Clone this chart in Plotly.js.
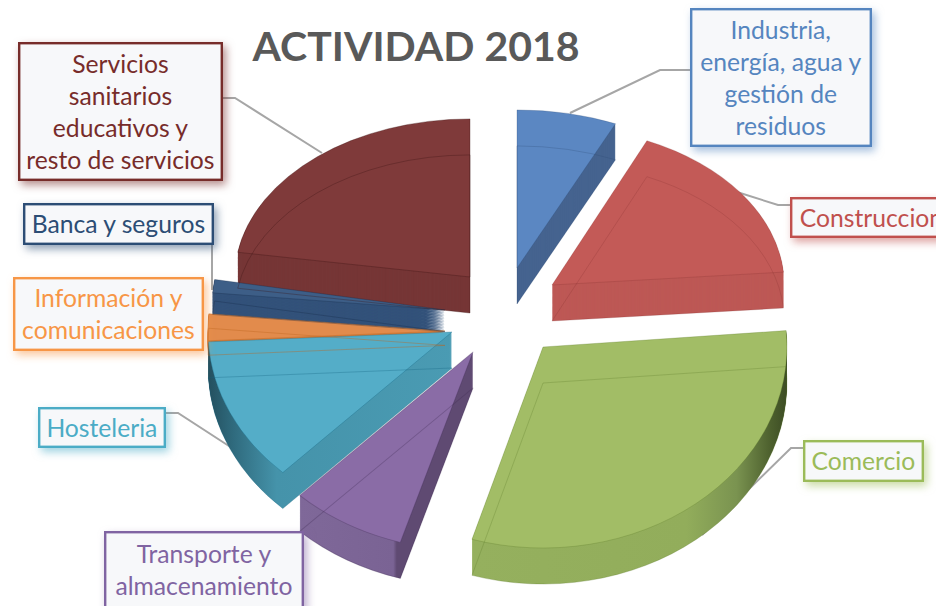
<!DOCTYPE html>
<html><head><meta charset="utf-8">
<script src="https://cdn.plot.ly/plotly-3.0.1.min.js"></script>
<style>html,body{margin:0;padding:0;background:#fff;overflow:hidden}#g{width:936px;height:606px}</style>
</head><body><div id="g"></div>
<script>
const categories = ["Industria, energía, agua y gestión de residuos","Construccion","Comercio","Transporte y almacenamiento","Hosteleria","Información y comunicaciones","Banca y seguros","Servicios sanitarios educativos y resto de servicios"];
const shares = [6.7,17,31,7.5,12,2.2,1.1,22.5];
const pulls = [0.12,0.24,0.2,0.14,0.16,0.18,0.18,0.08];
const topColors = ["#5b87c2","#c35a57","#a2bd66","#8a6ca6","#54adc8","#e28b4c","#3d5e87","#7f3a3a"];
const wallColors = ["#45638f","#bd5855","#95b05e","#5f4a72","#4a9bb3","#d9803f","#33527a","#763636"];
const edgeColors = ["rgba(40,70,110,.3)","rgba(120,40,40,.25)","rgba(90,120,40,.3)","rgba(60,40,80,.3)","rgba(20,100,130,.35)","rgba(190,100,30,.45)","rgba(20,40,70,.35)","rgba(60,20,20,.4)"];

const W=936,H=606,cx=490,cyTop=316,halfH=242,wall=36,wallSteps=36,halfW=300;
// perspective of each exploded slice: where its point sits on the page, its stretch, its wall depth
const apexX=[517,552,543,473,452,445,445,470];
const apexY=[268,285,347,352,332,331,310,277];
const stretchX=[1.235,1.19,1.25,1.28,1.25,1.215,1.195,1.205];
const stretchY=[0.81,0.81,1.03,1.02,1,1,1,0.81];
const wallDepth=[1,1,1,1,1,0.4,0.6,1];
// wall shading: [offset, colour] across each slice's width
const wallShades={
  2:[[0,'#95b05e'],[0.68,'#92ad5b'],[0.84,'#7a9350'],[0.95,'#4c5f2d'],[1,'#3c4c24']],
  3:[[0,'#7f6899'],[0.54,'#7a6394'],[0.56,'#5f4a72'],[1,'#5f4a72']],
  4:[[0,'#24505f'],[0.1,'#2f6a7d'],[0.28,'#4593aa'],[1,'#4a9bb3']]
};

const px=x=>x/W, py=y=>1-y/H;
const base={type:'pie',values:shares,labels:categories,pull:pulls,sort:false,direction:'clockwise',rotation:0,textinfo:'none',hoverinfo:'label+percent'};
const dom=o=>({x:[px(cx-halfW),px(cx+halfW)],y:[py(cyTop+o+halfH),py(cyTop+o-halfH)]});
const traces=[],offsets=[];
for(let k=wallSteps;k>=1;k--){
  const o=wall*k/wallSteps;
  traces.push({...base,domain:dom(o),marker:{colors:wallColors,line:{width:0}}});offsets.push(o);
}
traces.push({...base,domain:dom(0),marker:{colors:topColors,line:{color:edgeColors,width:.8}}});offsets.push(0);
traces.push({...base,domain:dom(wall),marker:{colors:categories.map(()=>'rgba(0,0,0,0)'),line:{color:edgeColors,width:.8}}});offsets.push(wall);

const labelTexts=["Industria,<br>energía, agua y<br>gestión de<br>residuos","Construccion","Comercio","Transporte y<br>almacenamiento","Hosteleria","Información y<br>comunicaciones","Banca y seguros","Servicios<br>sanitarios<br>educativos y<br>resto de servicios"];
const boxes=[[690,8,871,146],[790,197,952,237],[803,440,923,481],[104,531,303,608],[38,407,165,447],[13,277,203,350],[23,203,213,244],[18,42,222,180]];
const textColors=["#5585bf","#c0504d","#9bbb59","#8064a2","#4bacc6","#f79646","#2c4d75","#772c2a"];
const annotations=boxes.map((b,i)=>({
  xref:'paper',yref:'paper',xanchor:'left',yanchor:'top',x:px(b[0]),y:py(b[1]),showarrow:false,
  text:labelTexts[i],width:b[2]-b[0]-4,height:b[3]-b[1]-4,align:'center',valign:'middle',borderpad:0,
  bgcolor:'#f7f8fa',bordercolor:textColors[i],borderwidth:2.4,
  font:{family:'Lato, sans-serif',size:24.7,color:textColors[i]}
}));
const leaders=[[[690,70],[660,70],[570,113]],[[790,205],[778,205],[737,192]],[[803,448],[791,448],[702,535]],[[165,413],[178,413],[232,448]],[[212,244],[212,290]],[[222,98],[235,98],[322,153]]];
const shapes=leaders.map(l=>({type:'path',xref:'paper',yref:'paper',layer:'below',
  path:l.map((p,i)=>(i?'L':'M')+px(p[0])+','+py(p[1])).join(' '),line:{color:'#a6a6a6',width:2}}));

Plotly.newPlot('g',traces,{
  width:W,height:H,margin:{l:0,r:0,t:0,b:0},paper_bgcolor:'#fff',showlegend:false,
  title:{text:'<b>ACTIVIDAD 2018</b>',xref:'paper',yref:'paper',x:px(416),xanchor:'center',y:py(47),yanchor:'middle',font:{family:'Lato, sans-serif',size:41,color:'#595959'}},
  annotations,shapes
},{displayModeBar:false,staticPlot:true}).then(gd=>{
  const NS='http://www.w3.org/2000/svg';
  const svg=gd.querySelector('svg.main-svg');
  const defs=svg.querySelector('defs')||svg.insertBefore(document.createElementNS(NS,'defs'),svg.firstChild);
  Object.keys(wallShades).forEach(i=>{
    const g=document.createElementNS(NS,'linearGradient');
    g.setAttribute('id','wallShade'+i);
    wallShades[i].forEach(s=>{
      const st=document.createElementNS(NS,'stop');
      st.setAttribute('offset',s[0]);st.setAttribute('stop-color',s[1]);g.appendChild(st);
    });
    defs.appendChild(g);
  });
  const total=shares.reduce((a,b)=>a+b,0);
  const r=halfH/(1+Math.max(...pulls));
  let run=0;
  const mids=shares.map(v=>{const m=(run+v/2)/total*2*Math.PI;run+=v;return m;});
  gd.querySelectorAll('.pielayer .trace').forEach((tr,t)=>{
    const cy=cyTop+offsets[t];
    tr.querySelectorAll('.slice').forEach((sl,i)=>{
      const sx=stretchX[i],sy=stretchY[i],p=pulls[i]*r;
      const rawX=cx+p*Math.sin(mids[i]), rawY=cy-p*Math.cos(mids[i]);
      const tx=apexX[i]-sx*rawX, ty=apexY[i]+offsets[t]*wallDepth[i]-sy*rawY;
      sl.setAttribute('transform','translate('+tx+','+ty+') scale('+sx+','+sy+')');
      if(t<wallSteps && wallShades[i]){
        const path=sl.querySelector('path');
        if(path) path.style.fill='url(#wallShade'+i+')';
      }
    });
  });
  gd.querySelectorAll('.annotation').forEach((a,i)=>{
    const b=a.querySelector('rect.bg');
    if(b) b.style.filter='drop-shadow(3px 4px 4px '+textColors[i]+'88)';
  });
});
</script></body></html>
